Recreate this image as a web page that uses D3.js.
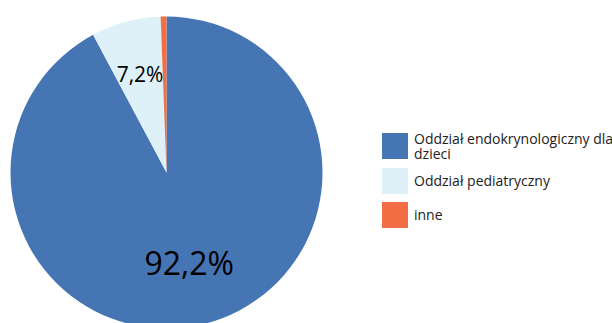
<!DOCTYPE html>
<meta charset="utf-8">
<style>
body { margin: 0; background: #fff; }
svg { display: block; font-family: "Open Sans", "Noto Sans", sans-serif; }
</style>
<body>
<svg width="612" height="323"></svg>
<script src="https://cdn.jsdelivr.net/npm/d3@7"></script>
<script>

var categories = ["Oddział endokrynologiczny dla dzieci", "Oddział pediatryczny", "inne"];
var values = [92.2, 7.2, 0.6];
var labels = ["92,2%", "7,2%", ""];
var colors = ["#4675b4", "#dff1f8", "#f36e45"];

var svg = d3.select("svg"),
    cx = 166.5, cy = 172.5, radius = 156;

var color = d3.scaleOrdinal().domain(categories).range(colors);

var pie = d3.pie().sort(null).value(function(d) { return d.value; });
var data = categories.map(function(c, i) { return {name: c, value: values[i], label: labels[i]}; });

var arc = d3.arc().innerRadius(0).outerRadius(radius);
var bigLabelArc = d3.arc().innerRadius(radius * 0.6).outerRadius(radius * 0.6);
var smallLabelArc = d3.arc().innerRadius(radius * 0.65).outerRadius(radius * 0.65);

var g = svg.append("g").attr("transform", "translate(" + cx + "," + cy + ")");

var slices = g.selectAll("g.slice")
  .data(pie(data))
  .enter().append("g").attr("class", "slice");

slices.append("path")
    .attr("d", arc)
    .attr("fill", function(d) { return color(d.data.name); });

slices.append("text")
    .attr("transform", function(d) {
      var a = d.data.value > 50 ? bigLabelArc : smallLabelArc;
      return "translate(" + a.centroid(d) + ")";
    })
    .attr("text-anchor", "middle")
    .attr("dy", "0.36em")
    .attr("font-size", function(d) { return d.data.value > 50 ? 32 : 21; })
    .attr("fill", "#000")
    .text(function(d) { return d.data.label; });

// legend
var legendY = [133, 168, 202];
var legend = svg.append("g").attr("transform", "translate(382,0)");

var item = legend.selectAll("g")
  .data(data)
  .enter().append("g")
    .attr("transform", function(d, i) { return "translate(0," + legendY[i] + ")"; });

item.append("rect")
    .attr("width", 26)
    .attr("height", 26)
    .attr("fill", function(d) { return color(d.name); });

item.each(function(d) {
  var t = d3.select(this).append("text")
      .attr("x", 32)
      .attr("font-size", 14)
      .attr("fill", "#222");
  if (d.name === categories[0]) {
    t.append("tspan").attr("x", 32).attr("y", 11).text("Oddział endokrynologiczny dla");
    t.append("tspan").attr("x", 32).attr("y", 25.5).text("dzieci");
  } else {
    t.attr("y", 17.5).text(d.name);
  }
});
</script>
</body>
